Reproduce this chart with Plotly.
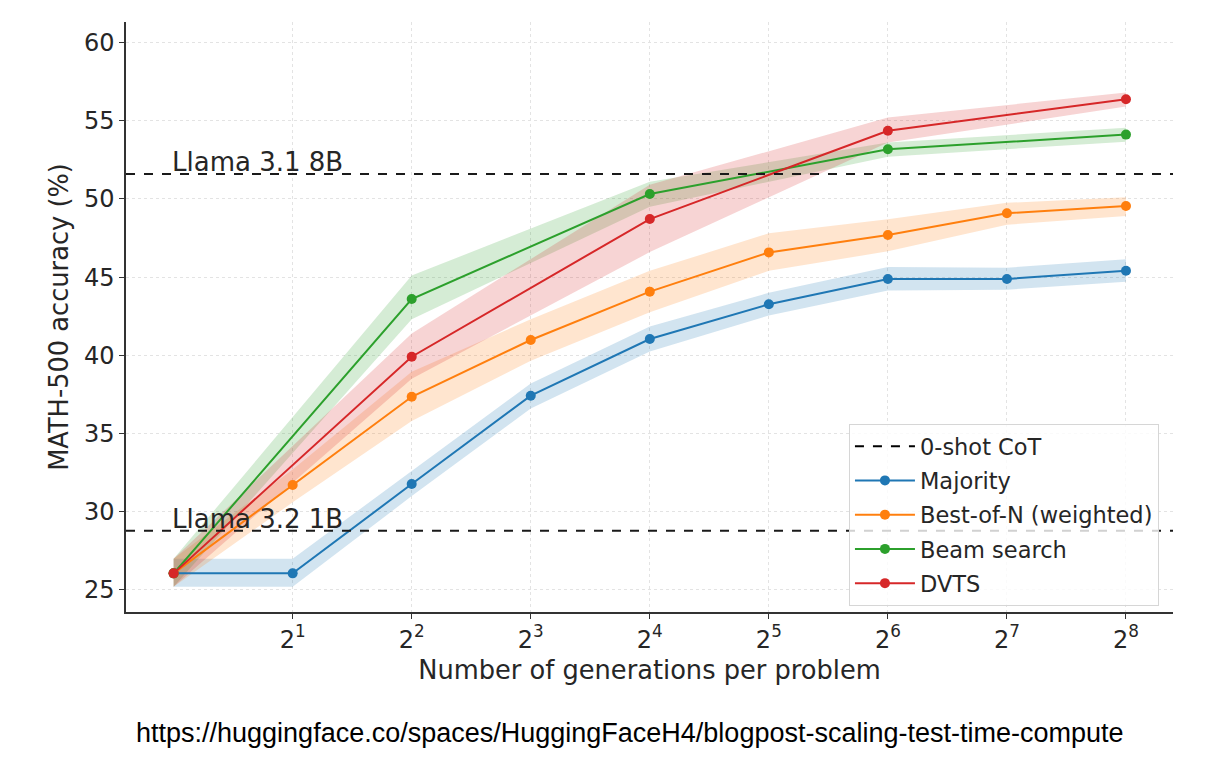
import plotly.graph_objects as go
import math

# ---- data ----
gens_all = [1, 2, 4, 8, 16, 32, 64, 128, 256]
gens_even = [1, 4, 16, 64, 256]

majority = [26.06, 26.06, 31.77, 37.42, 41.04, 43.26, 44.88, 44.88, 45.41]
majority_lo = [25.2, 25.2, 31.0, 36.6, 40.25, 42.55, 44.15, 44.2, 44.7]
majority_hi = [27.0, 27.0, 32.6, 38.2, 41.85, 44.0, 45.65, 45.6, 46.15]

best_of_n = [26.06, 31.71, 37.35, 40.98, 44.07, 46.58, 47.69, 49.08, 49.55]
best_of_n_lo = [25.2, 30.6, 35.8, 39.65, 42.75, 45.4, 46.65, 48.35, 48.9]
best_of_n_hi = [27.0, 32.7, 38.95, 42.3, 45.4, 47.8, 48.7, 49.75, 50.1]

beam = [26.06, 43.6, 50.31, 53.17, 54.11]
beam_lo = [25.2, 42.3, 49.5, 52.7, 53.66]
beam_hi = [27.0, 45.1, 51.1, 53.6, 54.55]

dvts = [26.06, 39.91, 48.71, 54.36, 56.37]
dvts_lo = [25.2, 38.5, 46.6, 53.6, 55.9]
dvts_hi = [27.0, 41.4, 50.9, 55.2, 56.8]

baseline_values = [51.59, 28.79]
baseline_labels = ["Llama 3.1 8B", "Llama 3.2 1B"]

x_tickvals = [2, 4, 8, 16, 32, 64, 128, 256]
x_ticktext = ["2<sup>%d</sup>" % i for i in range(1, 9)]
y_tickvals = [25, 30, 35, 40, 45, 50, 55, 60]

series = [
    ("Majority", gens_all, majority, majority_lo, majority_hi, "#1f77b4", "rgba(31,119,180,0.2)"),
    ("Best-of-N (weighted)", gens_all, best_of_n, best_of_n_lo, best_of_n_hi, "#ff7f0e", "rgba(255,127,14,0.2)"),
    ("Beam search", gens_even, beam, beam_lo, beam_hi, "#2ca02c", "rgba(44,160,44,0.2)"),
    ("DVTS", gens_even, dvts, dvts_lo, dvts_hi, "#d62728", "rgba(214,39,40,0.2)"),
]

FONT = "DejaVu Sans"
TXT = "#262626"

fig = go.Figure()

# bands
for name, xs, ys, lo, hi, col, fcol in series:
    fig.add_trace(go.Scatter(
        x=list(xs) + list(xs)[::-1], y=list(hi) + list(lo)[::-1],
        fill="toself", fillcolor=fcol, line=dict(width=0), mode="lines",
        hoverinfo="skip", showlegend=False))

# legend entry for baselines
fig.add_trace(go.Scatter(
    x=[None], y=[None], mode="lines", name="0-shot CoT",
    line=dict(color="black", width=2, dash="dash"), legendgroup="g0"))

for i, (name, xs, ys, lo, hi, col, fcol) in enumerate(series):
    fig.add_trace(go.Scatter(
        x=xs, y=ys, mode="lines+markers", name=name,
        line=dict(color=col, width=2), marker=dict(color=col, size=10),
        legendgroup="g%d" % (i + 1)))

# baselines
for val, lab in zip(baseline_values, baseline_labels):
    fig.add_shape(type="line", xref="paper", x0=0, x1=1, yref="y", y0=val, y1=val,
                  line=dict(color="#1a1a1a", width=2, dash="dash"), layer="above")
    fig.add_annotation(x=0, xref="x", y=val, yref="y", text=lab, showarrow=False,
                       xanchor="left", yanchor="bottom", yshift=-5, xshift=-4,
                       font=dict(family=FONT, size=26, color=TXT))

plot_w = 1218 - 126 - 45
plot_h = 761 - 22 - 149

# footer
fig.add_annotation(x=(630 - 126) / plot_w, xref="paper", y=(612 - 733) / plot_h, yref="paper",
                   xanchor="center", yanchor="middle",
                   text="https://huggingface.co/spaces/HuggingFaceH4/blogpost-scaling-test-time-compute",
                   showarrow=False, font=dict(family="Liberation Sans", size=27, color="black"))

lx0 = math.log10(2 ** -0.4)
lx1 = math.log10(2 ** 8.395)

fig.update_layout(
    width=1218, height=761,
    margin=dict(l=126, r=45, t=22, b=149),
    paper_bgcolor="white", plot_bgcolor="white",
    font=dict(family=FONT, color=TXT),
    xaxis=dict(type="log", range=[lx0, lx1], tickvals=x_tickvals, ticktext=x_ticktext,
               showgrid=True, gridcolor="#e3e3e3", griddash="dot", gridwidth=1,
               showline=True, linecolor="#333333", linewidth=1.5,
               ticks="outside", ticklen=5, tickcolor="#333333",
               tickfont=dict(size=24, color=TXT), zeroline=False,
               title=dict(text="Number of generations per problem", font=dict(size=25.7, color=TXT), standoff=8)),
    yaxis=dict(range=[23.59, 61.31], tickvals=y_tickvals,
               showgrid=True, gridcolor="#e3e3e3", griddash="dot", gridwidth=1,
               showline=True, linecolor="#333333", linewidth=1.5,
               ticks="outside", ticklen=5, tickcolor="#333333",
               tickfont=dict(size=24, color=TXT), zeroline=False,
               title=dict(text="MATH-500 accuracy (%)", font=dict(size=25.7, color=TXT), standoff=8)),
    legend=dict(x=0.6905, y=0.3186, xanchor="left", yanchor="top",
                bgcolor="rgba(255,255,255,0.8)", bordercolor="#d6d6d6", borderwidth=1,
                font=dict(size=22.5, color=TXT), traceorder="grouped", tracegroupgap=2,
                itemwidth=60),
    showlegend=True,
)

fig.write_html("out.html")
